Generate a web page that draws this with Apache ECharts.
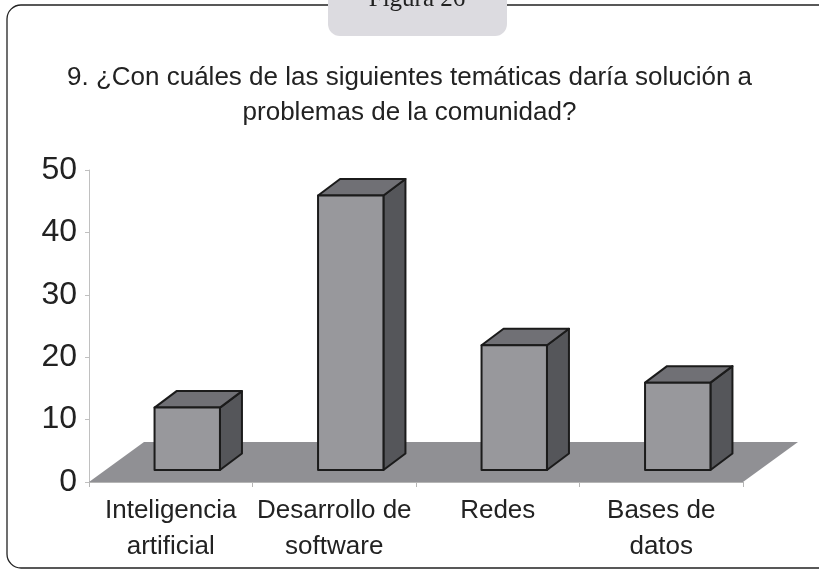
<!DOCTYPE html>
<html style="height: 100%">
<head>
    <meta charset="utf-8">
</head>
<body style="height: 100%; margin: 0; background: #fff">
    <div id="container" style="width: 819px; height: 571px;"></div>
    <script type="text/javascript" src="https://cdn.jsdelivr.net/npm/echarts@6/dist/echarts.min.js"></script>
    <script type="text/javascript">
        var categories = ['Inteligencia\nartificial', 'Desarrollo de\nsoftware', 'Redes', 'Bases de\ndatos'];
        var values = [10, 44, 20, 14];
        var yTicks = [0, 10, 20, 30, 40, 50];

        var dom = document.getElementById("container");
        var myChart = echarts.init(dom);

        // pseudo-3D geometry (pixels)
        var FLOOR_DX = 55, FLOOR_DY = 40;
        var BAR_DX = 22, BAR_DY = 16.5;
        var BAR_POS = 0.3; // bar front sits 30% into floor depth

        function renderFloor(params, api) {
            var cs = params.coordSys;
            var x0 = cs.x, x1 = cs.x + cs.width, y = cs.y + cs.height;
            return {
                type: 'polygon',
                shape: { points: [[x0, y], [x1, y], [x1 + FLOOR_DX, y - FLOOR_DY], [x0 + FLOOR_DX, y - FLOOR_DY]] },
                style: { fill: '#909094', stroke: null }
            };
        }

        function renderBar(params, api) {
            var i = api.value(0), v = api.value(1);
            var base = api.coord([i, 0]);
            var top = api.coord([i, v]);
            var band = api.size([1, 0])[0];
            var ox = FLOOR_DX * BAR_POS, oy = FLOOR_DY * BAR_POS;
            var w = band * 0.4;
            var cx = base[0] + ox;
            var x0 = cx - w / 2, x1 = cx + w / 2;
            var yb = base[1] - oy, yt = top[1] - oy;
            var line = { stroke: '#1b1b1b', lineWidth: 2, lineJoin: 'round' };
            return {
                type: 'group',
                children: [
                    {
                        type: 'polygon',
                        shape: { points: [[x1, yt], [x1 + BAR_DX, yt - BAR_DY], [x1 + BAR_DX, yb - BAR_DY], [x1, yb]] },
                        style: Object.assign({ fill: '#55565a' }, line)
                    },
                    {
                        type: 'polygon',
                        shape: { points: [[x0, yt], [x1, yt], [x1 + BAR_DX, yt - BAR_DY], [x0 + BAR_DX, yt - BAR_DY]] },
                        style: Object.assign({ fill: '#707075' }, line)
                    },
                    {
                        type: 'rect',
                        shape: { x: x0, y: yt, width: w, height: yb - yt },
                        style: Object.assign({ fill: '#98989c' }, line)
                    }
                ]
            };
        }

        var option = {
            backgroundColor: '#ffffff',
            animation: false,
            title: {
                text: '9. ¿Con cuáles de las siguientes temáticas daría solución a\nproblemas de la comunidad?',
                left: 'center',
                top: 55,
                textStyle: {
                    fontFamily: 'Liberation Sans',
                    fontSize: 26,
                    fontWeight: 'normal',
                    color: '#222',
                    lineHeight: 35
                }
            },
            graphic: [
                {
                    type: 'rect',
                    shape: { x: 7, y: 5, width: 830, height: 563, r: 14 },
                    style: { fill: null, stroke: '#222', lineWidth: 1.3 },
                    z: 0
                },
                {
                    type: 'rect',
                    shape: { x: 328, y: -12, width: 179, height: 48, r: 12 },
                    style: { fill: '#dcdbe0', stroke: null },
                    z: 1
                },
                {
                    type: 'text',
                    x: 417,
                    y: 12,
                    style: {
                        text: 'Figura 26',
                        font: '25px "Liberation Serif"',
                        fill: '#222',
                        textAlign: 'center',
                        textVerticalAlign: 'bottom'
                    },
                    z: 2
                }
            ],
            grid: { left: 89, right: 76, top: 170, bottom: 89 },
            xAxis: {
                type: 'category',
                data: categories,
                axisLine: { lineStyle: { color: '#b5b5b5', width: 1 } },
                axisTick: { show: true, length: 5, alignWithLabel: false, lineStyle: { color: '#b5b5b5' } },
                axisLabel: {
                    interval: 0,
                    margin: 11,
                    color: '#222',
                    fontFamily: 'Liberation Sans',
                    fontSize: 26,
                    lineHeight: 36
                }
            },
            yAxis: {
                type: 'value',
                min: yTicks[0],
                max: yTicks[yTicks.length - 1],
                interval: 10,
                splitLine: { show: false },
                axisLine: { show: true, lineStyle: { color: '#c0c0c0', width: 1 } },
                axisTick: { show: true, length: 4, lineStyle: { color: '#c0c0c0' } },
                axisLabel: {
                    margin: 12,
                    color: '#222',
                    fontFamily: 'Liberation Sans',
                    fontSize: 32
                }
            },
            series: [
                {
                    type: 'custom',
                    renderItem: renderFloor,
                    data: [[0, 0]],
                    z: 1,
                    silent: true
                },
                {
                    type: 'custom',
                    renderItem: renderBar,
                    data: values.map(function (v, i) { return [i, v]; }),
                    z: 2
                }
            ]
        };

        myChart.setOption(option, true);
    </script>
</body>
</html>
